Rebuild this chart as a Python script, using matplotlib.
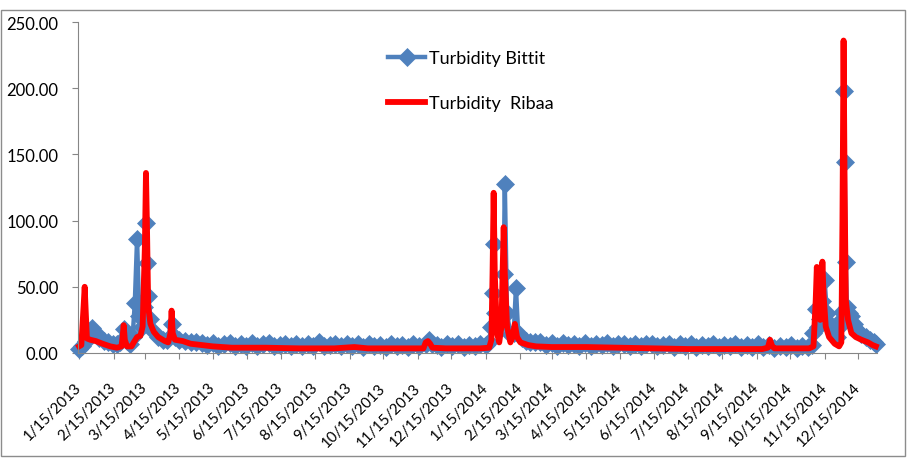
import numpy as np
import pandas as pd
import matplotlib
matplotlib.use("Agg")
import matplotlib.pyplot as plt
from matplotlib.patches import Rectangle

plt.rcParams['font.family'] = ['Lato', 'DejaVu Sans']

# ---- Turbidity Bittit: readings (date, value) taken from the chart ----
bittit_2013_start = ["2013-01-15", "2013-01-18", "2013-01-21", "2013-01-24", "2013-01-27",
                     "2013-01-30", "2013-02-02", "2013-02-06", "2013-02-10", "2013-02-14",
                     "2013-02-18", "2013-02-21", "2013-02-24", "2013-02-27", "2013-03-02",
                     "2013-03-04", "2013-03-06", "2013-03-08", "2013-03-10", "2013-03-12",
                     "2013-03-14", "2013-03-16", "2013-03-17", "2013-03-18", "2013-03-20",
                     "2013-03-23", "2013-03-27", "2013-03-31", "2013-04-04", "2013-04-08",
                     "2013-04-11", "2013-04-15", "2013-04-20", "2013-04-25", "2013-04-30",
                     "2013-05-05", "2013-05-10", "2013-05-15", "2013-05-20", "2013-05-25"]
bittit_2013_start_vals = [3, 5, 9, 15, 19, 15, 11, 9, 8, 7,
                          7, 8, 18, 9, 7, 12, 38, 86, 28, 20,
                          35, 98, 68, 43, 26, 16, 12, 10, 10, 22,
                          12, 10, 9, 8, 8, 7.5, 6, 7.5, 5.5, 7]

# 5-day readings, 2013-05-30 .. 2013-11-19
bittit_flat_2013 = [7.5, 5, 7, 5.5, 7.5, 5, 6.5, 7.5, 5, 6, 7, 5.5, 6.5, 5, 7, 5.5, 8, 5,
                    6, 7, 5, 6.5, 5, 6.5, 4.5, 6.5, 5, 6, 4.5, 6.5, 5, 6, 4.5, 6.5, 5]

bittit_winter_dates = ["2013-11-22", "2013-11-25", "2013-11-28", "2013-12-02", "2013-12-06",
                       "2013-12-11", "2013-12-16", "2013-12-21", "2013-12-26", "2013-12-31",
                       "2014-01-05", "2014-01-10", "2014-01-15", "2014-01-18", "2014-01-20",
                       "2014-01-21", "2014-01-22", "2014-01-23", "2014-01-25", "2014-01-27",
                       "2014-01-29", "2014-01-31", "2014-02-01", "2014-02-03", "2014-02-06",
                       "2014-02-09", "2014-02-11", "2014-02-13", "2014-02-16", "2014-02-20",
                       "2014-02-24", "2014-02-28"]
bittit_winter_vals = [7, 10, 7, 6, 4.5, 6.5, 5, 6.5, 4.5, 6, 5, 6.5, 6, 8, 20,
                      45, 82, 30, 20, 28, 22, 60, 128, 30, 14, 15, 49, 15, 11, 9,
                      8, 8]

# 5-day readings, 2014-03-05 .. 2014-11-01
bittit_flat_2014 = [8, 6, 7.5, 5.5, 7.5, 6, 7, 5.5, 7.5, 5.5, 7, 6, 7.5, 5, 6.5, 7, 5, 7,
                    5, 6.5, 7, 5, 6, 7, 4.5, 6.5, 5, 7, 4.5, 6, 5.5, 6.5, 4.5, 6, 5, 6.5,
                    4.5, 6, 4.5, 6.5, 4.5, 6, 4, 5.5, 4.5, 6, 4, 5.5, 4.5]

bittit_end_dates = ["2014-11-04", "2014-11-05", "2014-11-07", "2014-11-09", "2014-11-11",
                    "2014-11-13", "2014-11-15", "2014-11-17", "2014-11-20", "2014-11-23",
                    "2014-11-26", "2014-11-28", "2014-11-30", "2014-12-01", "2014-12-02",
                    "2014-12-03", "2014-12-04", "2014-12-05", "2014-12-07", "2014-12-09",
                    "2014-12-11", "2014-12-14", "2014-12-18", "2014-12-22", "2014-12-26",
                    "2014-12-29", "2014-12-31"]
bittit_end_vals = [6, 15, 33, 20, 26, 39, 55, 30, 22, 15,
                   12, 20, 25, 31, 198, 144, 69, 35, 30, 28,
                   22, 17, 14, 12, 10, 8, 7]

# ---- Turbidity Ribaa ----
ribaa_dates = ["2013-01-15", "2013-01-17", "2013-01-19", "2013-01-20", "2013-01-21",
               "2013-01-22", "2013-01-25", "2013-01-30", "2013-02-05", "2013-02-12",
               "2013-02-18", "2013-02-22", "2013-02-23", "2013-02-24", "2013-02-25",
               "2013-02-27", "2013-03-03", "2013-03-05", "2013-03-08", "2013-03-11",
               "2013-03-13", "2013-03-15", "2013-03-16", "2013-03-17", "2013-03-18",
               "2013-03-20", "2013-03-23", "2013-03-27", "2013-04-02", "2013-04-05",
               "2013-04-07", "2013-04-08", "2013-04-09", "2013-04-11", "2013-04-18",
               "2013-04-25", "2013-05-05", "2013-05-15", "2013-06-01", "2013-07-01",
               "2013-08-01", "2013-09-01", "2013-09-19", "2013-10-01", "2013-11-01",
               "2013-11-20", "2013-11-22", "2013-11-24", "2013-11-26", "2013-11-28",
               "2013-12-10", "2014-01-10", "2014-01-18", "2014-01-20", "2014-01-21",
               "2014-01-22", "2014-01-23", "2014-01-25", "2014-01-27", "2014-01-29",
               "2014-01-30", "2014-01-31", "2014-02-01", "2014-02-03", "2014-02-06",
               "2014-02-08", "2014-02-10", "2014-02-12", "2014-02-15", "2014-02-22",
               "2014-03-01", "2014-03-15", "2014-04-15", "2014-05-15", "2014-06-15",
               "2014-07-15", "2014-08-15", "2014-09-20", "2014-09-25", "2014-09-27",
               "2014-09-29", "2014-10-01", "2014-10-20", "2014-11-01", "2014-11-05",
               "2014-11-07", "2014-11-08", "2014-11-09", "2014-11-11", "2014-11-12",
               "2014-11-13", "2014-11-14", "2014-11-16", "2014-11-19", "2014-11-24",
               "2014-11-28", "2014-11-30", "2014-12-01", "2014-12-02", "2014-12-03",
               "2014-12-04", "2014-12-06", "2014-12-09", "2014-12-13", "2014-12-18",
               "2014-12-24", "2014-12-28", "2014-12-31"]
ribaa_vals = [5, 6, 35, 50, 30, 11, 10, 9, 7, 5,
              4, 5, 12, 21, 10, 5, 5, 8, 12, 13,
              20, 80, 136, 90, 35, 22, 16, 12, 9, 8,
              15, 32, 15, 10, 9, 7, 6, 5, 4, 4,
              3.5, 3.5, 4.5, 3.5, 3.5, 3.5, 8, 9, 7, 4,
              3.5, 3.5, 4, 10, 60, 121, 60, 15, 8, 20,
              60, 95, 60, 20, 8, 12, 22, 12, 8, 6,
              5, 4.5, 4.5, 4, 3.5, 3, 3, 3, 4, 10,
              5, 3.5, 3.5, 3.5, 5, 40, 65, 40, 25, 40,
              69, 45, 20, 12, 7, 5, 8, 100, 236, 120,
              40, 25, 15, 12, 10, 8, 6, 5]

# assemble the Bittit series
b_dates = (list(pd.to_datetime(bittit_2013_start))
           + list(pd.date_range("2013-05-30", periods=len(bittit_flat_2013), freq="5D"))
           + list(pd.to_datetime(bittit_winter_dates))
           + list(pd.date_range("2014-03-05", periods=len(bittit_flat_2014), freq="5D"))
           + list(pd.to_datetime(bittit_end_dates)))
b_vals = bittit_2013_start_vals + bittit_flat_2013 + bittit_winter_vals + bittit_flat_2014 + bittit_end_vals
r_dates = pd.to_datetime(ribaa_dates)

fig = plt.figure(figsize=(9.08, 4.64), dpi=100)
ax = fig.add_axes([78 / 908, 1 - 354 / 464, (877 - 78) / 908, (354 - 23) / 464])

ax.plot(b_dates, b_vals, color="#4F81BD", lw=3.2, marker="D", markersize=9,
        markeredgewidth=0.5, label="Turbidity Bittit", clip_on=False)
ax.plot(r_dates, ribaa_vals, color="#FF0000", lw=4.2, label="Turbidity  Ribaa",
        solid_joinstyle="round", clip_on=False)

ax.set_ylim(0, 250)
ax.set_yticks(np.arange(0, 251, 50))
ax.yaxis.set_major_formatter(plt.FuncFormatter(lambda v, p: "%.2f" % v))
ax.set_xlim(pd.Timestamp("2013-01-14"), pd.Timestamp("2015-01-01"))

ticks = pd.date_range("2013-01-01", "2014-12-01", freq="MS") + pd.Timedelta(days=14)
ax.set_xticks(ticks)
ax.set_xticklabels(["%d/%d/%d" % (t.month, t.day, t.year) for t in ticks],
                   rotation=45, ha="right", va="center", rotation_mode="anchor")

for s in ["top", "right"]:
    ax.spines[s].set_visible(False)
for s in ["left", "bottom"]:
    ax.spines[s].set_color("#868686")
ax.tick_params(axis="both", colors="#868686", labelcolor="black", length=4, width=0.8)
ax.tick_params(axis="y", labelsize=12, pad=10)
ax.tick_params(axis="x", labelsize=10.8, pad=19)

leg = ax.legend(loc="upper left", bbox_to_anchor=(379 / 908, 1 - 42 / 464),
                bbox_transform=fig.transFigure, frameon=False, fontsize=13,
                handlelength=2.05, handletextpad=0.2, labelspacing=1.6, borderpad=0)

fig.add_artist(Rectangle((1 / 908, 1 - 457 / 464), 904 / 908, 446 / 464,
                         transform=fig.transFigure, fill=False, edgecolor="#8C8C8C", lw=1))

fig.savefig("out.png", dpi=100)
